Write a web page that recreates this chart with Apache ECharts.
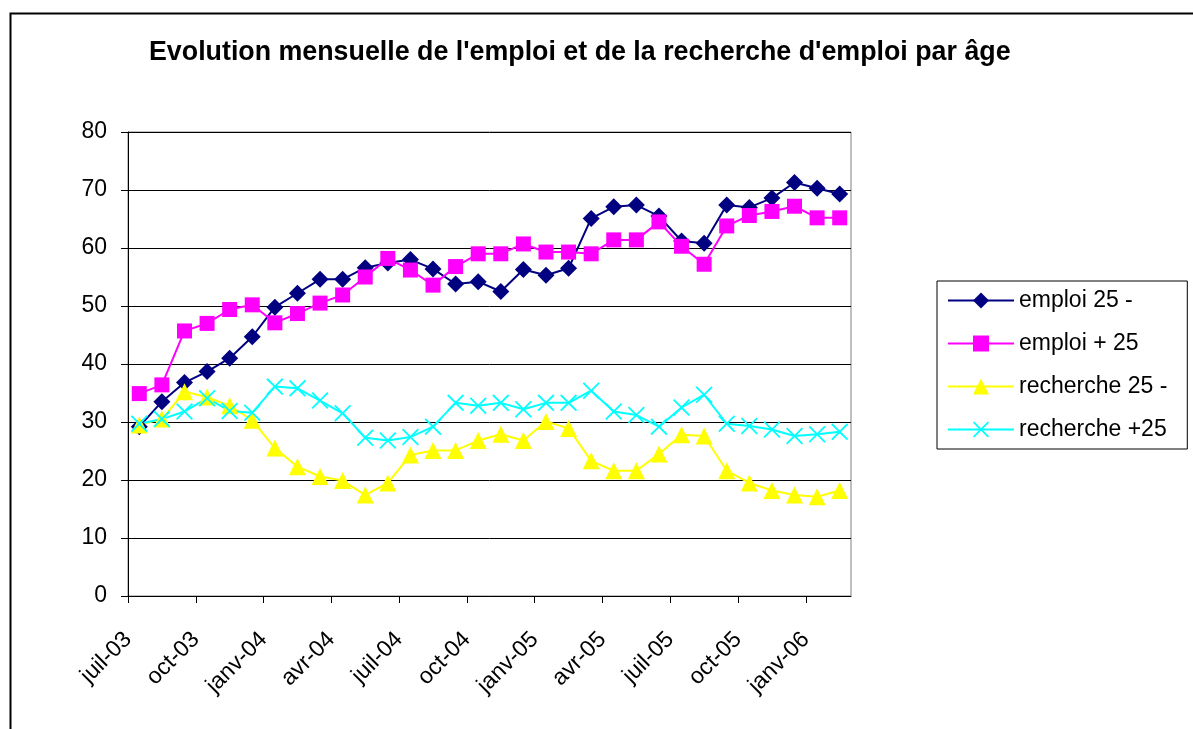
<!DOCTYPE html>
<html>
<head>
<meta charset="utf-8">
<script src="https://cdn.jsdelivr.net/npm/echarts@6/dist/echarts.min.js"></script>
<style>
html,body{margin:0;padding:0;background:#fff;}
#chart{width:1193px;height:729px;}
</style>
</head>
<body>
<div id="chart"></div>
<script>
const months = ['juil-03','août-03','sept-03','oct-03','nov-03','déc-03',
  'janv-04','févr-04','mars-04','avr-04','mai-04','juin-04','juil-04','août-04','sept-04','oct-04','nov-04','déc-04',
  'janv-05','févr-05','mars-05','avr-05','mai-05','juin-05','juil-05','août-05','sept-05','oct-05','nov-05','déc-05',
  'janv-06','févr-06'];
const emploiMoins25 = [29.2,33.5,36.8,38.7,41.0,44.7,49.8,52.2,54.6,54.6,56.6,57.4,58.0,56.4,53.8,54.2,52.5,56.3,55.3,56.5,65.1,67.1,67.4,65.5,61.2,60.8,67.4,67.0,68.6,71.3,70.3,69.3];
const emploiPlus25 = [34.9,36.4,45.7,47.0,49.4,50.2,47.1,48.7,50.5,51.9,55.0,58.2,56.2,53.6,56.8,59.0,59.0,60.7,59.3,59.3,59.0,61.4,61.4,64.5,60.3,57.2,63.8,65.6,66.3,67.2,65.2,65.2];
const rechercheMoins25 = [29.5,30.5,35.2,34.3,32.8,30.3,25.5,22.3,20.6,19.9,17.4,19.5,24.3,25.1,25.1,26.8,27.9,26.8,30.1,28.9,23.3,21.6,21.6,24.5,27.8,27.6,21.6,19.5,18.2,17.4,17.1,18.2];
const recherchePlus25 = [29.7,30.5,31.8,34.1,31.9,31.6,36.1,35.8,33.7,31.5,27.3,26.8,27.4,29.2,33.3,32.8,33.3,32.2,33.3,33.3,35.4,31.8,31.2,29.2,32.5,34.7,29.7,29.3,28.7,27.6,27.9,28.3];
const seriesNames = ['emploi 25 -','emploi + 25','recherche 25 -','recherche +25'];
const titleText = "Evolution mensuelle de l'emploi et de la recherche d'emploi par âge";

const FONT = '"Liberation Sans", Arial, sans-serif';
const xSymbol = 'path://M0,1.5L1.5,0L10,8.5L18.5,0L20,1.5L11.5,10L20,18.5L18.5,20L10,11.5L1.5,20L0,18.5L8.5,10Z';

// tick-label axis: labels sit on category boundaries (one more slot than months)
const boundaryLabels = months.concat(['']);

function mk(name, data, color, symbol, size) {
  return {
    name: name, type: 'line', data: data, xAxisIndex: 0,
    symbol: symbol, symbolSize: size, showSymbol: true, showAllSymbol: true,
    lineStyle: {color: color, width: 2},
    itemStyle: {color: color, borderWidth: 0},
    emphasis: {disabled: true},
    animation: false
  };
}

const chart = echarts.init(document.getElementById('chart'), null, {renderer: 'canvas'});
chart.setOption({
  backgroundColor: '#fff',
  animation: false,
  title: {
    text: titleText, left: 144, top: 34,
    textStyle: {fontFamily: FONT, fontSize: 26.8, fontWeight: 'bold', color: '#000'}
  },
  graphic: [{
    type: 'rect', left: 8, top: 11, z: 100, silent: true,
    shape: {x: 0, y: 0, width: 1200, height: 740},
    style: {fill: 'none', stroke: '#000', lineWidth: 2}
  }],
  legend: {
    orient: 'vertical', left: 937, top: 281,
    padding: [8, 20, 8, 10],
    borderColor: '#000', borderWidth: 1,
    itemWidth: 66, itemHeight: 20, itemGap: 20,
    textStyle: {fontFamily: FONT, fontSize: 23, color: '#000', lineHeight: 23},
    data: seriesNames
  },
  grid: {
    left: 128, right: 342, top: 132, bottom: 133,
    show: true, borderColor: '#808080', borderWidth: 1, backgroundColor: '#fff'
  },
  xAxis: [{
    type: 'category', data: months, boundaryGap: true,
    axisLine: {lineStyle: {color: '#000', width: 1}},
    axisTick: {show: false},
    axisLabel: {show: false},
    splitLine: {show: false}
  }, {
    type: 'category', data: boundaryLabels, boundaryGap: false, position: 'bottom',
    axisLine: {show: false},
    axisTick: {show: true, interval: 2, length: 7, lineStyle: {color: '#000'}},
    axisLabel: {
      interval: 2, rotate: 45, margin: 40,
      fontFamily: FONT, fontSize: 23, color: '#000'
    },
    splitLine: {show: false}
  }],
  yAxis: {
    type: 'value', min: 0, max: 80, interval: 10,
    axisLine: {show: true, lineStyle: {color: '#000', width: 1}},
    axisTick: {show: true, length: 7, lineStyle: {color: '#000'}},
    axisLabel: {margin: 21, fontFamily: FONT, fontSize: 23, color: '#000'},
    splitLine: {show: true, lineStyle: {color: '#000', width: 1}}
  },
  series: [
    mk(seriesNames[0], emploiMoins25, '#000080', 'diamond', 17),
    mk(seriesNames[1], emploiPlus25, '#FF00FF', 'rect', 15),
    mk(seriesNames[2], rechercheMoins25, '#FFFF00', 'triangle', 17),
    mk(seriesNames[3], recherchePlus25, '#00FFFF', xSymbol, 17)
  ]
});
</script>
</body>
</html>
